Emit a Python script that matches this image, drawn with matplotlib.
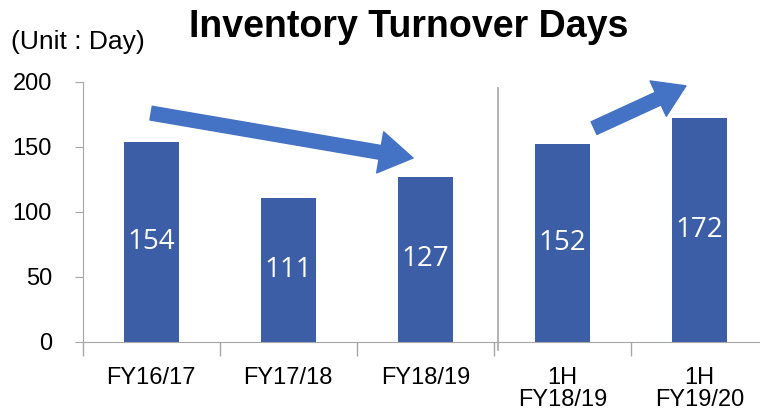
import matplotlib.pyplot as plt
from matplotlib.patches import FancyArrowPatch

# 数据
categories = ["FY16/17", "FY17/18", "FY18/19", "1H\nFY18/19", "1H\nFY19/20"]
days = [154, 111, 127, 152, 172]
y_ticks = [0, 50, 100, 150, 200]

plt.rcParams['font.family'] = ['Liberation Sans', 'DejaVu Sans']

fig = plt.figure(figsize=(7.6, 4.16), dpi=100)
ax = fig.add_axes([0.1086, 0.178, 0.8914, 0.625])

bar_color = "#3B5EA6"
arrow_color = "#4472C4"
grey = "#A6A6A6"

x = list(range(len(categories)))
ax.bar(x, days, width=0.4, color=bar_color, zorder=2)

# 柱内数值
for xi, v in zip(x, days):
    ax.text(xi, v / 2, str(v), ha="center", va="center", color="white",
            fontsize=20, family=["Open Sans", "DejaVu Sans"])

ax.set_xlim(-0.5, 4.44)
ax.set_ylim(0, 200)
ax.set_yticks(y_ticks)
ax.set_yticklabels([str(t) for t in y_ticks], fontsize=17)
ax.tick_params(axis="y", length=6, color=grey, pad=16)

ax.set_xticks(x)
ax.set_xticklabels(categories, fontsize=17, linespacing=1.0)
ax.tick_params(axis="x", which="major", length=0, pad=18)
ax.set_xticks([-0.5, 0.5, 1.5, 2.5, 3.5], minor=True)
ax.tick_params(axis="x", which="minor", length=10, color=grey, width=1)

for s in ["top", "right"]:
    ax.spines[s].set_visible(False)
for s in ["left", "bottom"]:
    ax.spines[s].set_color(grey)

# 分隔线
ax.plot([2.53, 2.53], [-6, 195], color=grey, lw=1.2, clip_on=False, zorder=1)

# 趋势箭头
a1 = FancyArrowPatch((0.0, 176), (1.91, 141.5),
                     arrowstyle="simple,head_length=24,head_width=30,tail_width=10",
                     mutation_scale=1, color=arrow_color, shrinkA=0, shrinkB=0,
                     clip_on=False, zorder=3)
a2 = FancyArrowPatch((3.23, 164.5), (3.90, 197),
                     arrowstyle="simple,head_length=22,head_width=28,tail_width=10",
                     mutation_scale=1, color=arrow_color, shrinkA=0, shrinkB=0,
                     clip_on=False, zorder=3)
ax.add_patch(a1)
ax.add_patch(a2)

fig.text(0.538, 0.935, "Inventory Turnover Days", ha="center", va="center",
         fontsize=27, fontweight="bold")
fig.text(0.014, 0.9, "(Unit : Day)", ha="left", va="center", fontsize=19)

fig.savefig("out.png", dpi=100)
